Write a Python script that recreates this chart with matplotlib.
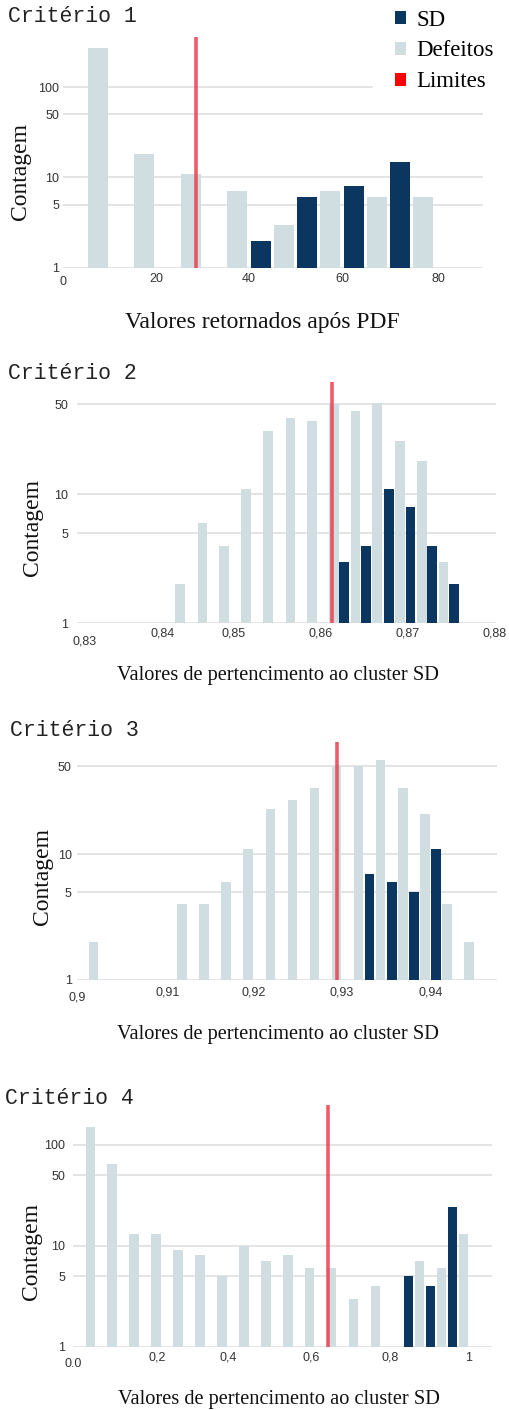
import matplotlib
matplotlib.use("Agg")
import matplotlib.pyplot as plt
from matplotlib.patches import Patch
import numpy as np

W, H = 509, 1410

SD_COLOR = "#0b365f"
DEF_COLOR = "#d0dee2"
LIMIT_COLOR = "#e8414f"
LEGEND_RED = "#ff0000"
GRID_COLOR = "#dcdcdc"
TICK_COLOR = "#333333"

plt.rcParams["font.family"] = ["Liberation Sans", "DejaVu Sans"]
SERIF = ["Liberation Serif", "DejaVu Serif"]
MONO = ["Liberation Mono", "DejaVu Sans Mono"]

# ---- Critério 1 ----
c1_bins = [5, 15, 25, 35, 45, 55, 65, 75]
c1_sd = [0, 0, 0, 0, 2, 6, 8, 15]
c1_def = [270, 18, 11, 7, 3, 7, 6, 6]
c1_limit = 28.5
c1_xticks = [0, 20, 40, 60, 80]
c1_xlabels = ["0", "20", "40", "60", "80"]
c1_yticks = [1, 5, 10, 50, 100]

# ---- Critério 2 ----
c2_bins = [0.8432, 0.8458, 0.8483, 0.8508, 0.8533, 0.8559, 0.8584,
           0.8609, 0.8634, 0.8659, 0.8685, 0.8710, 0.8735, 0.8760]
c2_sd = [0, 0, 0, 0, 0, 0, 0, 0, 3, 4, 11, 8, 4, 2]
c2_def = [2, 6, 4, 11, 31, 39, 37, 50, 44, 51, 26, 18, 3, 0]
c2_limit = 0.8613
c2_xticks = [0.83, 0.84, 0.85, 0.86, 0.87, 0.88]
c2_xlabels = ["0,83", "0,84", "0,85", "0,86", "0,87", "0,88"]
c2_yticks = [1, 5, 10, 50]

# ---- Critério 3 ----
c3_bins = [0.90125, 0.90375, 0.90625, 0.90875, 0.91125, 0.91375,
           0.91625, 0.91875, 0.92125, 0.92375, 0.92625, 0.92875,
           0.93125, 0.93375, 0.93625, 0.93875, 0.94125, 0.94375]
c3_sd = [0, 0, 0, 0, 0, 0, 0, 0, 0, 0, 0, 0, 0, 7, 6, 5, 11, 0]
c3_def = [2, 0, 0, 0, 4, 4, 6, 11, 23, 27, 34, 50, 50, 56, 34, 21, 4, 2]
c3_limit = 0.9294
c3_xticks = [0.90, 0.91, 0.92, 0.93, 0.94]
c3_xlabels = ["0,9", "0,91", "0,92", "0,93", "0,94"]
c3_yticks = [1, 5, 10, 50]

# ---- Critério 4 ----
c4_bins = [0.0278, 0.0833, 0.1389, 0.1944, 0.2500, 0.3056, 0.3611,
           0.4167, 0.4722, 0.5278, 0.5833, 0.6389, 0.6944, 0.7500,
           0.8056, 0.8611, 0.9167, 0.9722]
c4_sd = [0, 0, 0, 0, 0, 0, 0, 0, 0, 0, 0, 0, 0, 0, 0, 5, 4, 24]
c4_def = [150, 65, 13, 13, 9, 8, 5, 10, 7, 8, 6, 6, 3, 4, 0, 7, 6, 13]
c4_limit = 0.643
c4_xticks = [0.0, 0.2, 0.4, 0.6, 0.8, 1.0]
c4_xlabels = ["0.0", "0,2", "0,4", "0,6", "0,8", "1"]
c4_yticks = [1, 5, 10, 50, 100]

titles = ["Critério 1", "Critério 2", "Critério 3", "Critério 4"]
xaxis_titles = ["Valores retornados após PDF",
                "Valores de pertencimento ao cluster SD",
                "Valores de pertencimento ao cluster SD",
                "Valores de pertencimento ao cluster SD"]
ylabel = "Contagem"
legend_labels = ["SD", "Defeitos", "Limites"]

# layout of each panel, in pixels of the final image
layout = [
    dict(box=(63, 483.3, 37, 267.7), xlim=(0, 90.4), ytop=360, ypad=2.7,
         dy=11.5, dy_first=14.3, nudges={4: 3}, first_dx=0,
         title=(8, 22.5), xt=(262, 327.7, 17), yl=(21, 171),
         grid_cut={100: (372 - 63) / (483.3 - 63)}),
    dict(box=(77, 496, 381.7, 623.3), xlim=(0.832, 0.8802), ytop=74.6, ypad=6.2,
         dy=10, dy_first=18.2, nudges={1: 16}, first_dx=7.5,
         title=(8, 379), xt=(278.3, 680, 14.7), yl=(33, 528), grid_cut={}),
    dict(box=(77, 496.7, 741.7, 980), xlim=(0.9, 0.9475), ytop=78.7, ypad=3.8,
         dy=12.5, dy_first=17.7, nudges={1: 2}, first_dx=0,
         title=(10, 735.7), xt=(278.3, 1038.7, 14.7), yl=(43, 876.7), grid_cut={}),
    dict(box=(72.7, 492.3, 1105, 1346.7), xlim=(-0.0028, 1.0592), ytop=247, ypad=5.5,
         dy=11.3, dy_first=17.3, nudges={1: 4, 2: -3.5}, first_dx=0,
         title=(5, 1104), xt=(279.2, 1404, 14.7), yl=(32, 1251), grid_cut={}),
]

panels = [
    (c1_bins, c1_sd, c1_def, c1_limit, c1_xticks, c1_xlabels, c1_yticks),
    (c2_bins, c2_sd, c2_def, c2_limit, c2_xticks, c2_xlabels, c2_yticks),
    (c3_bins, c3_sd, c3_def, c3_limit, c3_xticks, c3_xlabels, c3_yticks),
    (c4_bins, c4_sd, c4_def, c4_limit, c4_xticks, c4_xlabels, c4_yticks),
]

fig = plt.figure(figsize=(W / 100, H / 100), dpi=100)
fig.patch.set_facecolor("white")


def fx(px):
    return px / W


def fy(py):
    return 1 - py / H


for (bins, sd, defe, limit, xticks, xlabels, yticks), lay, title, xtitle in zip(
        panels, layout, titles, xaxis_titles):
    left, right, top, bottom = lay["box"]
    ax = fig.add_axes([fx(left), fy(bottom), (right - left) / W, (bottom - top) / H])
    bins = np.asarray(bins, dtype=float)
    step = bins[1] - bins[0]
    offset = 0.25 * step
    width = 0.43 * step

    ax.set_yscale("log")
    ax.set_xlim(*lay["xlim"])
    ax.set_ylim(1, lay["ytop"])

    for v in yticks:
        xmax = lay["grid_cut"].get(v, 1.0)
        ax.axhline(v, xmin=0, xmax=xmax, color=GRID_COLOR, lw=1.1, zorder=0)

    ax.bar(bins - offset, sd, width, color=SD_COLOR, zorder=2, linewidth=0)
    ax.bar(bins + offset, defe, width, color=DEF_COLOR, zorder=2, linewidth=0)
    ax.axvline(limit, color=LIMIT_COLOR, lw=2.6, alpha=0.85, zorder=3)

    for s in ax.spines.values():
        s.set_visible(False)
    ax.set_yticks(yticks)
    ax.set_yticklabels([str(v) for v in yticks])
    ax.minorticks_off()
    ax.tick_params(axis="y", length=0, pad=lay["ypad"], labelsize=9,
                   labelcolor=TICK_COLOR)
    ax.set_xticks([])

    # x tick labels: the axis minimum sits a little lower, at the left edge
    for i, (val, lbl) in enumerate(zip(xticks, xlabels)):
        if i == 0:
            ax.annotate(lbl, xy=(0, 0), xycoords="axes fraction",
                        xytext=(lay["first_dx"], -lay["dy_first"]),
                        textcoords="offset pixels", ha="center", va="center",
                        fontsize=9, color=TICK_COLOR, annotation_clip=False)
        else:
            ax.annotate(lbl, xy=(val, 0), xycoords=("data", "axes fraction"),
                        xytext=(lay["nudges"].get(i, 0), -lay["dy"]),
                        textcoords="offset pixels", ha="center", va="center",
                        fontsize=9, color=TICK_COLOR, annotation_clip=False)

    tx, ty = lay["title"]
    fig.text(fx(tx), fy(ty), title, family=MONO, fontsize=15.5, color="#222222",
             ha="left", va="baseline")
    xx, xy, xs = lay["xt"]
    fig.text(fx(xx), fy(xy), xtitle, family=SERIF, fontsize=xs, color="#111111",
             ha="center", va="baseline")
    lx, ly = lay["yl"]
    fig.text(fx(lx), fy(ly), ylabel, family=SERIF, fontsize=17, color="#111111",
             ha="center", va="center", rotation=90)

handles = [Patch(facecolor=SD_COLOR, edgecolor="none"),
           Patch(facecolor=DEF_COLOR, edgecolor="none"),
           Patch(facecolor=LEGEND_RED, edgecolor="none")]
fig.legend(handles, legend_labels, loc="upper left",
           bbox_to_anchor=(fx(395), fy(9.5)), frameon=False,
           prop={"family": SERIF, "size": 16.5},
           handlelength=0.5, handleheight=0.5, handletextpad=0.45,
           labelspacing=0.43, borderpad=0, borderaxespad=0)

fig.savefig("out.png", dpi=100, facecolor="white")
